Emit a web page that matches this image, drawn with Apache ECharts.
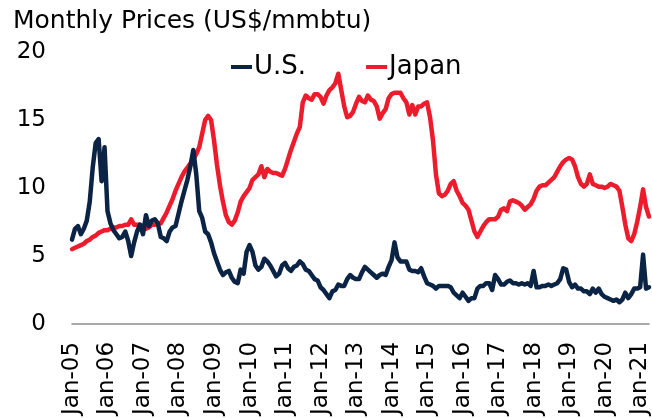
<!DOCTYPE html>
<html>
<head>
<meta charset="utf-8">
<script src="https://cdn.jsdelivr.net/npm/echarts@6/dist/echarts.min.js"></script>
<style>
  html, body { margin: 0; padding: 0; background: #fff; }
  #chart { width: 652px; height: 418px; }
</style>
</head>
<body>
<div id="chart"></div>
<script>
// monthly, Jan-05 .. Apr-21
const years = ['05','06','07','08','09','10','11','12','13','14','15','16','17','18','19','20','21']
const monthNames = ['Jan','Feb','Mar','Apr','May','Jun','Jul','Aug','Sep','Oct','Nov','Dec']
const months = []
years.forEach(y => monthNames.forEach(m => months.push(m + '-' + y)))
months.length = 196

const usPrices = [
  6.2, 7.0, 7.2, 6.6, 7.0, 7.6, 9.0, 11.5, 13.3, 13.6, 10.5, 13.0,
  8.3, 7.4, 6.9, 6.6, 6.3, 6.4, 6.8, 6.1, 5.0, 6.0, 6.8, 7.3,
  6.6, 8.0, 7.2, 7.6, 7.7, 7.4, 6.4, 6.3, 6.1, 6.8, 7.1, 7.2,
  8.1, 9.0, 9.8, 10.6, 11.6, 12.8, 11.0, 8.3, 7.8, 6.8, 6.6, 6.0,
  5.2, 4.6, 4.0, 3.6, 3.8, 3.9, 3.4, 3.1, 3.0, 4.0, 3.7, 5.3,
  5.8, 5.3, 4.3, 4.0, 4.2, 4.8, 4.6, 4.3, 3.9, 3.5, 3.7, 4.3,
  4.5, 4.1, 3.9, 4.2, 4.3, 4.6, 4.4, 4.0, 3.9, 3.6, 3.3, 3.2,
  2.7, 2.5, 2.2, 1.9, 2.4, 2.5, 2.9, 2.8, 2.8, 3.3, 3.6, 3.4,
  3.3, 3.3, 3.8, 4.2, 4.0, 3.8, 3.6, 3.4, 3.6, 3.7, 3.6, 4.2,
  4.7, 6.0, 4.9, 4.6, 4.6, 4.6, 4.0, 3.9, 3.9, 3.8, 4.1, 3.5,
  3.0, 2.9, 2.8, 2.6, 2.8, 2.8, 2.8, 2.8, 2.7, 2.3, 2.1, 1.9,
  2.3, 2.0, 1.7, 1.9, 1.9, 2.6, 2.8, 2.8, 3.0, 3.0, 2.5, 3.6,
  3.3, 2.9, 2.9, 3.1, 3.2, 3.0, 3.0, 2.9, 3.0, 2.9, 3.0, 2.8,
  3.9, 2.7, 2.7, 2.8, 2.8, 2.9, 2.8, 2.9, 3.0, 3.3, 4.1, 4.0,
  3.1, 2.7, 2.9, 2.6, 2.6, 2.4, 2.4, 2.2, 2.6, 2.3, 2.6, 2.2,
  2.0, 1.9, 1.8, 1.7, 1.8, 1.6, 1.8, 2.3, 1.9, 2.2, 2.6, 2.6,
  2.7, 5.1, 2.6, 2.7
]

const japanPrices = [
  5.5, 5.6, 5.7, 5.8, 5.9, 6.1, 6.2, 6.4, 6.5, 6.7, 6.8, 6.9,
  6.9, 7.0, 7.1, 7.1, 7.2, 7.2, 7.3, 7.3, 7.7, 7.3, 7.3, 7.3,
  7.2, 7.0, 7.1, 7.3, 7.3, 7.4, 7.4, 7.8, 8.2, 8.7, 9.2, 9.8,
  10.3, 10.8, 11.2, 11.5, 11.8, 12.1, 12.5, 13.0, 14.0, 15.0, 15.3, 15.0,
  13.5, 11.7, 10.2, 9.0, 8.0, 7.5, 7.3, 7.6, 8.2, 9.0, 9.4, 9.7,
  10.0, 10.6, 10.8, 11.0, 11.6, 10.8, 11.4, 11.2, 11.1, 11.1, 11.0, 10.9,
  11.4, 12.1, 12.8, 13.4, 14.0, 14.5, 16.3, 16.8, 16.6, 16.5, 16.9, 16.9,
  16.7, 16.2, 16.8, 17.2, 17.4, 17.7, 18.4, 17.2, 16.0, 15.2, 15.3, 15.6,
  16.2, 16.7, 16.4, 16.3, 16.8, 16.5, 16.4, 16.0, 15.1, 15.5, 15.8, 16.6,
  16.9, 17.0, 17.0, 17.0, 16.6, 16.3, 15.4, 16.1, 15.4, 16.0, 16.0, 16.2,
  16.3, 15.2, 13.5, 11.0, 9.6, 9.4, 9.5, 9.8, 10.3, 10.5, 9.8, 9.4,
  8.9, 8.7, 8.4, 7.6, 6.8, 6.4, 6.8, 7.2, 7.5, 7.7, 7.7, 7.7,
  7.9, 8.4, 8.5, 8.3, 9.0, 9.1, 9.0, 8.9, 8.7, 8.4, 8.6, 8.8,
  9.2, 9.8, 10.1, 10.2, 10.2, 10.4, 10.6, 10.8, 11.2, 11.6, 11.9, 12.1,
  12.2, 12.1, 11.6, 10.8, 10.3, 10.1, 10.3, 11.0, 10.3, 10.2, 10.1, 10.1,
  10.0, 10.1, 10.3, 10.2, 10.1, 9.8, 8.6, 7.3, 6.3, 6.1, 6.6, 7.5,
  8.6, 9.9, 8.6, 7.9
]

const yTicks = [0, 5, 10, 15, 20]

const FONT = 'DejaVu Sans'
const US_COLOR = '#0b2445'
const JP_COLOR = '#ec1c2d'

const chart = echarts.init(document.getElementById('chart'), null, { renderer: 'canvas' })

chart.setOption({
  animation: false,
  title: {
    text: 'Monthly Prices (US$/mmbtu)',
    left: 8,
    top: 4,
    textStyle: { fontFamily: FONT, fontSize: 25, fontWeight: 'normal', color: '#000' },
  },
  legend: {
    data: ['U.S.', 'Japan'],
    left: 226,
    top: 49,
    icon: 'rect',
    itemWidth: 21,
    itemHeight: 4,
    itemGap: 60,
    textStyle: { fontFamily: FONT, fontSize: 26, color: '#000', padding: [0, 0, 0, -3] },
  },
  grid: { left: 72, right: 3, top: 52, bottom: 92, containLabel: false },
  xAxis: {
    type: 'category',
    data: months,
    boundaryGap: false,
    axisLine: { lineStyle: { color: '#8c8c8c', width: 1.5 } },
    axisTick: { show: false },
    axisLabel: {
      rotate: 90,
      margin: 18,
      interval: i => i % 12 === 0,
      fontFamily: FONT,
      fontSize: 23,
      color: '#000',
    },
    splitLine: { show: false },
  },
  yAxis: {
    type: 'value',
    min: yTicks[0],
    max: yTicks[yTicks.length - 1],
    interval: 5,
    axisLine: { show: false },
    axisTick: { show: false },
    splitLine: { show: false },
    axisLabel: { margin: 26, fontFamily: FONT, fontSize: 23, color: '#000' },
  },
  series: [
    {
      name: 'Japan',
      type: 'line',
      data: japanPrices,
      symbol: 'none',
      color: JP_COLOR,
      lineStyle: { width: 4.5, color: JP_COLOR, cap: 'round', join: 'round' },
      z: 2,
    },
    {
      name: 'U.S.',
      type: 'line',
      data: usPrices,
      symbol: 'none',
      color: US_COLOR,
      lineStyle: { width: 4.5, color: US_COLOR, cap: 'round', join: 'round' },
      z: 3,
    },
  ],
})
</script>
</body>
</html>
